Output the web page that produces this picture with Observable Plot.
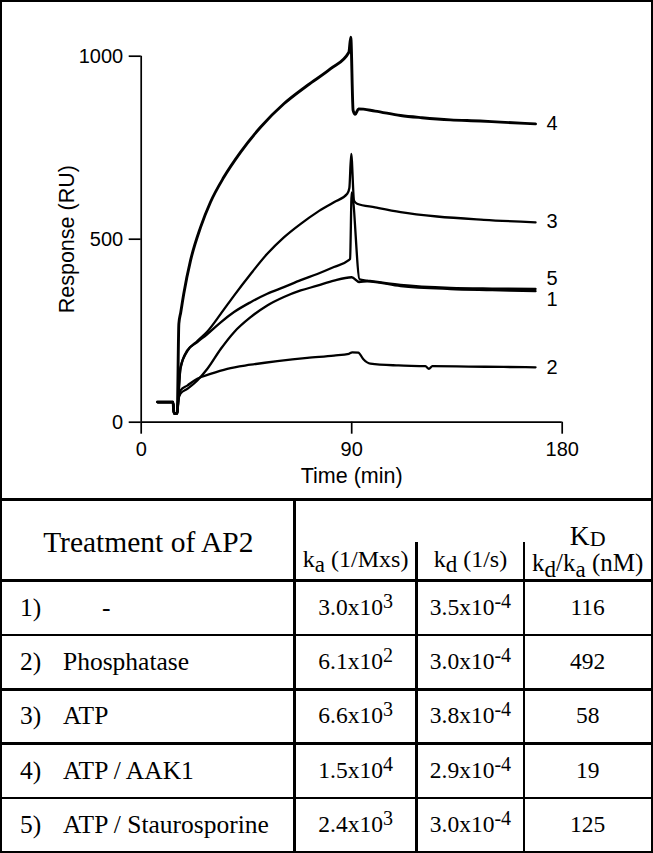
<!DOCTYPE html>
<html><head><meta charset="utf-8">
<script src="https://cdn.jsdelivr.net/npm/d3@7"></script>
<script src="https://cdn.jsdelivr.net/npm/@observablehq/plot@0.6"></script>
<style>
html,body{margin:0;padding:0;background:#fff;}
#wrap{position:relative;width:653px;height:853px;overflow:hidden;background:#fff;}
#chart{position:absolute;left:0;top:0;}
#frame{position:absolute;left:0;top:0;width:653px;height:853px;box-sizing:border-box;border:2px solid #000;pointer-events:none;}
.hl{position:absolute;left:0;width:653px;height:2.6px;background:#000;}
.vl{position:absolute;width:2.6px;background:#000;}
.t{position:absolute;font-family:"Liberation Serif","Times New Roman",serif;color:#000;white-space:nowrap;line-height:1;}
.t span{line-height:0;position:relative;}
</style></head><body>
<div id="wrap"><div id="chart"></div><div id="table"></div><div id="frame"></div></div>
<script>
// ---- chart data (time in min, response in RU) ----
const xTicks = [0, 90, 180];
const yTicks = [0, 500, 1000];

const t1 = [7, 13.6, 14.0, 15.4, 15.9, 16.8, 19.7, 24, 28.3, 34, 39.7, 46.8, 53.9, 61, 68.2, 75.3, 82.4, 90, 93.2, 96.6, 110.9, 132.2, 150, 168.6];
const v1 = [55, 55, 24, 24, 60, 78, 91, 114, 146, 200, 246, 287, 319, 342, 360, 373, 387, 396, 383, 385, 372, 364, 361, 358];

const t2 = [7, 13.6, 14.0, 15.4, 15.9, 16.8, 19.7, 24, 29.6, 36.8, 46.8, 58.2, 71, 82.4, 88.8, 90.2, 92.8, 95, 98, 110, 121.5, 123, 124.5, 140, 155, 168.6];
const v2 = [55, 55, 24, 24, 60, 87, 100, 119, 132, 146, 157, 167, 176, 182, 187, 191, 190, 172, 160, 155, 153, 146, 153, 152, 151, 150];

const t3 = [7, 13.6, 14.0, 15.4, 15.9, 16.8, 19.7, 24, 28.3, 34, 39.7, 46.8, 53.9, 61, 68.2, 75.3, 82.4, 88.1, 89.0, 89.8, 91.0, 92.3, 100, 110.9, 126.5, 146.5, 168.6];
const v3 = [55, 55, 24, 24, 70, 150, 194, 222, 248, 296, 346, 405, 460, 505, 542, 574, 601, 624, 640, 733, 605, 597, 587, 574, 562, 553, 546];

const t4 = [7, 13.6, 14.0, 15.4, 16.1, 16.9, 18.2, 21.1, 25.4, 29.6, 35.3, 42.5, 51, 61, 71, 81, 88.8, 89.6, 90.6, 91.5, 92.9, 100, 110.9, 120, 132.2, 145, 153.6, 168.6];
const v4 = [55, 55, 24, 24, 269, 300, 351, 442, 533, 601, 669, 738, 806, 870, 920, 966, 1011, 1052, 852, 841, 856, 850, 838, 832, 826, 823, 820, 815];

const t5 = [7, 13.6, 14.0, 15.4, 15.9, 16.8, 19.7, 24, 28.3, 34, 39.7, 46.8, 53.9, 61, 68.2, 75.3, 82.4, 88.6, 89.3, 90.0, 93.4, 96.6, 110.9, 132.2, 150, 168.6];
const v5 = [55, 55, 24, 24, 70, 146, 196, 219, 241, 273, 301, 328, 351, 369, 388, 405, 424, 442, 446, 628, 390, 387, 375, 367, 365, 364];

const curveNames = ["4", "3", "5", "1", "2"];
const curveLabelTime = [175.7, 175.7, 175.7, 175.7, 175.7];
const curveLabelValue = [816, 549, 392, 335, 148];

// ---- table data ----
const treatmentNo = ["1)", "2)", "3)", "4)", "5)"];
const treatments = ["-", "Phosphatase", "ATP", "ATP / AAK1", "ATP / Staurosporine"];
const kaMant = ["3.0", "6.1", "6.6", "1.5", "2.4"];
const kaExp = ["3", "2", "3", "4", "3"];
const kdMant = ["3.5", "3.0", "3.8", "2.9", "3.0"];
const kdExp = ["-4", "-4", "-4", "-4", "-4"];
const KDnM = ["116", "492", "58", "19", "125"];

// ---- build chart ----
const series = [["1", t1, v1], ["2", t2, v2], ["3", t3, v3], ["4", t4, v4], ["5", t5, v5]];
const rows = series.flatMap(([id, ts, vs]) => ts.map((t, i) => ({curve: id, time: t, ru: vs[i]})));
const labelRows = curveNames.map((n, i) => ({name: n, time: curveLabelTime[i], ru: curveLabelValue[i]}));

const plot = Plot.plot({
  width: 653, height: 497,
  marginLeft: 140.7, marginRight: 91.3, marginTop: 55.7, marginBottom: 75.3,
  x: {domain: [0, 180]},
  y: {domain: [0, 1000]},
  style: {fontFamily: "'Liberation Sans', Arial, sans-serif", fontSize: "20px", color: "#000", background: "#fff", overflow: "visible"},
  marks: [
    Plot.ruleX([0], {y1: 0, y2: 1000, strokeWidth: 1.7}),
    Plot.ruleY([0], {x1: 0, x2: 180, strokeWidth: 1.7}),
    Plot.axisX({ticks: xTicks, tickFormat: d => String(d), tickSize: 12, tickPadding: 8, strokeWidth: 1.7, label: null}),
    Plot.axisY({ticks: yTicks, tickFormat: d => String(d), tickSize: 12, tickPadding: 6, strokeWidth: 1.7, label: null}),
    Plot.axisX({ticks: [], tickSize: 0, label: "Time (min)", labelArrow: false, labelAnchor: "center", labelOffset: 61, fontSize: 21.5}),
    Plot.axisY({ticks: [], tickSize: 0, label: "Response (RU)", labelArrow: false, labelAnchor: "center", labelOffset: 82, fontSize: 21.5}),
    Plot.line(rows.filter(d => d.curve !== "4"), {x: "time", y: "ru", z: "curve", stroke: "#000", strokeWidth: 2.3, strokeLinejoin: "round", curve: "monotone-x"}),
    Plot.line(rows.filter(d => d.curve === "4"), {x: "time", y: "ru", z: "curve", stroke: "#000", strokeWidth: 2.9, strokeLinejoin: "round", curve: "monotone-x"}),
    Plot.text(labelRows, {x: "time", y: "ru", text: "name", fontSize: 20, fill: "#000"})
  ]
});
document.getElementById("chart").appendChild(plot);

// ---- build table ----
const tbl = document.getElementById("table");
const hLines = [499.3, 580.7, 635, 689.3, 743.4, 798.2];
const rowBounds = [580.7, 635, 689.3, 743.4, 798.2, 852];
hLines.forEach(y => {
  const d = document.createElement("div"); d.className = "hl"; d.style.top = (y - 1.3) + "px"; tbl.appendChild(d);
});
[[294.6, 499.3], [416.7, 541.7], [524.2, 541.7]].forEach(([x, y0]) => {
  const d = document.createElement("div"); d.className = "vl";
  d.style.left = (x - 1.3) + "px"; d.style.top = y0 + "px"; d.style.height = (852 - y0) + "px"; tbl.appendChild(d);
});

function place(html, {left, width, baseline, size, align = "center"}) {
  const d = document.createElement("div");
  d.className = "t";
  d.style.fontSize = size + "px";
  d.style.top = (baseline - 0.8375 * size) + "px";
  d.style.left = left + "px";
  if (width != null) { d.style.width = width + "px"; }
  d.style.textAlign = align;
  d.innerHTML = html;
  tbl.appendChild(d);
}
const sub = (s, size, drop) => `<span style="font-size:${size}px;top:${drop}px">${s}</span>`;
const sup = (s) => `<span style="font-size:20px;top:-7px">${s}</span>`;

place("Treatment of AP2", {left: 2, width: 292.6, baseline: 553, size: 29.5});
place(`k${sub("a", 23, 4.5)} (1/Mxs)`, {left: 294.6, width: 122.1, baseline: 567.5, size: 24});
place(`k${sub("d", 23, 4.5)} (1/s)`, {left: 416.7, width: 107.5, baseline: 567.5, size: 24});
place(`K${sub("D", 22, 1)}`, {left: 524.2, width: 127, baseline: 545, size: 27.5});
place(`k${sub("d", 23, 6)}/k${sub("a", 23, 6)} (nM)`, {left: 524.2, width: 127, baseline: 571, size: 25});

treatments.forEach((name, i) => {
  const mid = (rowBounds[i] + rowBounds[i + 1]) / 2;
  place(treatmentNo[i], {left: 20, baseline: mid + 8.3, size: 25.5, align: "left"});
  place(name, {left: name === "-" ? 102 : 63, baseline: mid + 8.3, size: 25.5, align: "left"});
  place(`${kaMant[i]}x10${sup(kaExp[i])}`, {left: 294.6, width: 122.1, baseline: mid + 7.6, size: 23.5});
  place(`${kdMant[i]}x10${sup(kdExp[i])}`, {left: 416.7, width: 107.5, baseline: mid + 7.6, size: 23.5});
  place(KDnM[i], {left: 524.2, width: 127, baseline: mid + 7.6, size: 23.5});
});
</script>
</body></html>
